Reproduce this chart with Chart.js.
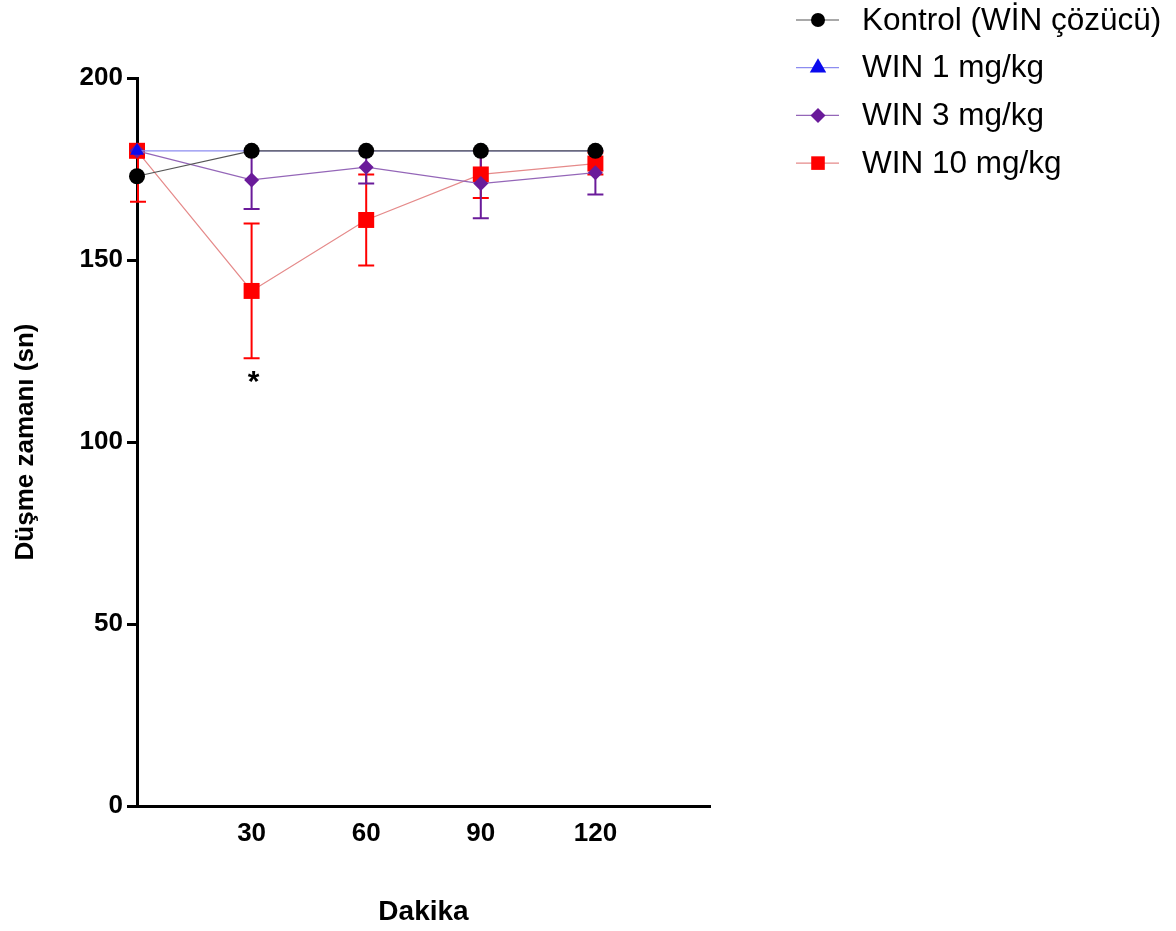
<!DOCTYPE html>
<html>
<head>
<meta charset="utf-8">
<script src="https://cdn.jsdelivr.net/npm/chart.js@4"></script>
<style>
  body { margin: 0; background: #fff; }
  #wrap { width: 1176px; height: 931px; }
</style>
</head>
<body>
<div id="wrap"><canvas id="rotarod" width="1176" height="931"></canvas></div>
<script>
// Time points (minutes) and axis ticks
const minutes = [0, 30, 60, 90, 120];
const xTicks = [30, 60, 90, 120];
const yTicks = [0, 50, 100, 150, 200];

// Series names
const seriesNames = ['Kontrol (WİN çözücü)', 'WIN 1 mg/kg', 'WIN 3 mg/kg', 'WIN 10 mg/kg'];

// Means (fall latency, seconds)
const kontrolMean = [173, 180, 180, 180, 180];
const win1Mean = [180, 180, 180, 180, 180];
const win3Mean = [180, 172, 175.5, 171, 174];
const win10Mean = [180, 141.5, 161, 173.5, 176.5];

// SEM per point
const kontrolErr = [0, 0, 0, 0, 0];
const win1Err = [0, 0, 0, 0, 0];
const win3Err = [0, 8, 4.5, 9.5, 6];
const win10Err = [14, 18.5, 12.5, 6.5, 3];

// significance marks for WIN 10 mg/kg
const win10Sig = ['', '*', '', '', ''];

const cutoff = 180; // test duration, upper bars are clipped here

const colors = ['#000000', '#0a0aee', '#6a1b9a', '#ff0000'];
const lineColors = ['#555555', '#8c8cf0', '#9466b8', '#e58a8a'];

function pts(vals) {
  return minutes.map((m, i) => ({ x: m, y: vals[i] }));
}

const allMeans = [kontrolMean, win1Mean, win3Mean, win10Mean];
const allErrs = [kontrolErr, win1Err, win3Err, win10Err];
const styles = [
  { pointStyle: 'circle', radius: 8, legendRadius: 7 },
  { pointStyle: 'triangle', radius: 8, legendRadius: 9.5 },
  { pointStyle: 'rectRot', radius: 7.5, legendRadius: 7.5 },
  { pointStyle: 'rect', radius: 11.3, legendRadius: 9.6 }
];

const datasets = seriesNames.map((name, i) => ({
  label: name,
  data: pts(allMeans[i]),
  err: allErrs[i],
  borderColor: lineColors[i],
  borderWidth: 1.2,
  backgroundColor: colors[i],
  pointBackgroundColor: colors[i],
  pointBorderColor: colors[i],
  pointBorderWidth: 0,
  pointStyle: styles[i].pointStyle,
  pointRadius: styles[i].radius,
  pointHoverRadius: styles[i].radius,
  tension: 0,
  fill: false,
  clip: false
}));

// error bars, drawn beneath the lines and symbols
const errorBars = {
  id: 'errorBars',
  beforeDatasetsDraw(chart) {
    const { ctx, scales: { x, y } } = chart;
    ctx.save();
    ctx.lineWidth = 2;
    for (let d = chart.data.datasets.length - 1; d >= 0; d--) {
      const ds = chart.data.datasets[d];
      ctx.strokeStyle = colors[d];
      ds.data.forEach((p, i) => {
        const e = ds.err[i];
        if (!e) return;
        const px = x.getPixelForValue(p.x) + (p.x === 0 ? 1 : 0);
        const lo = y.getPixelForValue(p.y - e);
        const hi = y.getPixelForValue(Math.min(p.y + e, cutoff));
        ctx.beginPath();
        ctx.moveTo(px, lo); ctx.lineTo(px, hi);
        ctx.moveTo(px - 8, lo); ctx.lineTo(px + 8, lo);
        if (hi < lo - 1 && p.y + e <= cutoff) {
          ctx.moveTo(px - 8, hi); ctx.lineTo(px + 8, hi);
        }
        ctx.stroke();
      });
    }
    ctx.restore();
  },
  afterDatasetsDraw(chart) {
    const { ctx, scales: { x, y } } = chart;
    ctx.save();
    ctx.fillStyle = '#000';
    ctx.font = 'bold 30px "Liberation Sans", Arial, sans-serif';
    ctx.textAlign = 'center';
    ctx.textBaseline = 'top';
    win10Sig.forEach((s, i) => {
      if (!s) return;
      const px = x.getPixelForValue(minutes[i]) + 2;
      const py = y.getPixelForValue(win10Mean[i] - win10Err[i]) + 9;
      ctx.fillText(s, px, py);
    });
    ctx.restore();
  }
};

// legend with line + symbol, to the right of the plot
const sideLegend = {
  id: 'sideLegend',
  afterDraw(chart) {
    const { ctx } = chart;
    ctx.save();
    chart.data.datasets.forEach((ds, i) => {
      const cy = 20 + 47.7 * i;
      ctx.strokeStyle = lineColors[i];
      ctx.lineWidth = 1.2;
      ctx.beginPath();
      ctx.moveTo(796, cy); ctx.lineTo(839, cy);
      ctx.stroke();
      ctx.fillStyle = colors[i];
      ctx.strokeStyle = colors[i];
      Chart.helpers.drawPoint(ctx, {
        pointStyle: ds.pointStyle,
        radius: styles[i].legendRadius,
        borderWidth: 0,
        rotation: 0
      }, 818, cy);
      ctx.fillStyle = '#000';
      ctx.font = '31.5px "Liberation Sans", Arial, sans-serif';
      ctx.textBaseline = 'middle';
      ctx.textAlign = 'left';
      ctx.fillText(ds.label, 862, cy + 1);
    });
    ctx.restore();
  }
};

const tickFont = { family: '"Liberation Sans", Arial, sans-serif', size: 26, weight: 'bold' };

const config = {
  type: 'line',
  data: { datasets },
  options: {
    responsive: false,
    animation: false,
    layout: { padding: { top: 78, right: 466, bottom: 0, left: 0 } },
    plugins: {
      legend: { display: false },
      tooltip: { enabled: false }
    },
    scales: {
      x: {
        type: 'linear',
        min: 0,
        max: 150,
        afterBuildTicks: (s) => { s.ticks = xTicks.map(v => ({ value: v })); },
        afterFit: (s) => { s.height = 125; },
        grid: { display: false, drawTicks: false },
        border: { display: true, color: '#000', width: 3 },
        ticks: { color: '#000', font: tickFont, padding: 12, maxRotation: 0 },
        title: {
          display: true,
          text: 'Dakika',
          color: '#000',
          font: { family: '"Liberation Sans", Arial, sans-serif', size: 28, weight: 'bold' },
          padding: { top: 0, bottom: 2 }
        }
      },
      y: {
        min: 0,
        max: 200,
        afterBuildTicks: (s) => { s.ticks = yTicks.map(v => ({ value: v })); },
        afterFit: (s) => { s.width = 137; },
        grid: { display: true, drawOnChartArea: false, drawTicks: true, tickLength: 10, color: '#000', lineWidth: 3 },
        border: { display: true, color: '#000', width: 3 },
        ticks: { color: '#000', font: tickFont, padding: 4 },
        title: {
          display: true,
          text: 'Düşme zamanı (sn)',
          color: '#000',
          font: { family: '"Liberation Sans", Arial, sans-serif', size: 26, weight: 'bold' },
          padding: { top: 10, bottom: 0 }
        }
      }
    }
  },
  plugins: [errorBars, sideLegend]
};

const rotarodChart = new Chart(document.getElementById('rotarod'), config);
</script>
</body>
</html>
